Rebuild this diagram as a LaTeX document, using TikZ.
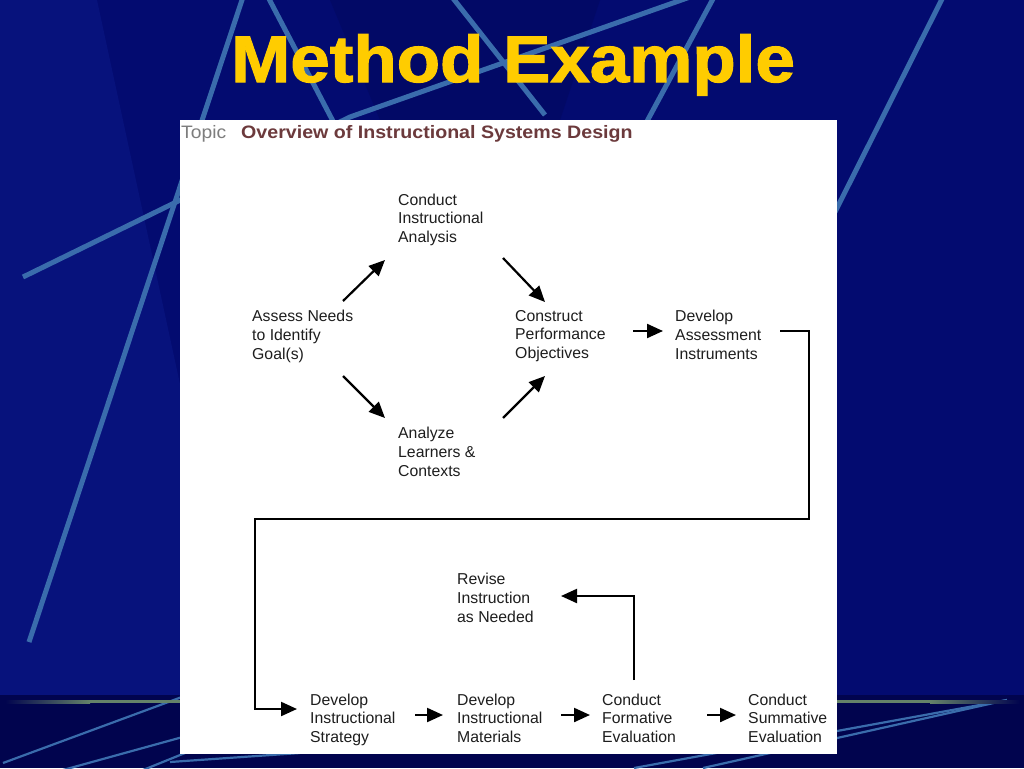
\documentclass[tikz,border=0pt]{standalone}
\usepackage{fontspec}
\setmainfont{Liberation Sans}
\newfontfamily\ttlfont[FakeBold=1.6]{Liberation Sans}
\usetikzlibrary{arrows.meta}
\definecolor{bgblue}{RGB}{3,11,112}
\definecolor{bgleft}{RGB}{7,18,124}
\definecolor{bgdark}{RGB}{2,9,102}
\definecolor{bandblue}{RGB}{1,4,78}
\definecolor{lineblue}{RGB}{58,108,172}
\definecolor{hline}{RGB}{100,130,105}
\definecolor{titleyellow}{RGB}{255,204,0}
\definecolor{headred}{RGB}{108,58,60}
\definecolor{topicgray}{RGB}{125,125,125}
\definecolor{txtgray}{RGB}{30,30,30}
\begin{document}
\begin{tikzpicture}[x=1pt,y=-1pt,
  lbl/.style={anchor=north west, inner sep=0pt, align=left,
    font=\fontsize{15.8}{18.7}\selectfont, text=txtgray,
    execute at begin node={\rule{0pt}{12pt}}},
  arr/.style={line width=2.2pt, draw=black, -{Triangle[length=16pt,width=14pt]}},
  bgline/.style={draw=lineblue, line width=5pt},
  bgthin/.style={draw=lineblue, line width=2.2pt},
  titlefont/.style={font=\ttlfont\fontsize{66}{70}\bfseries\selectfont, inner sep=0pt, anchor=base west}]
\useasboundingbox (0,0) rectangle (1024,768);
% background
\fill[bgblue] (0,0) rectangle (1024,768);
\fill[bgleft] (0,0) -- (97,0) -- (180,384) -- (180,695) -- (0,695) -- cycle;
\fill[bgdark] (330,0) -- (600,0) -- (560,120) -- (380,120) -- cycle;
\fill[bandblue] (0,695) rectangle (1024,768);
\draw[bgline] (243,-3) -- (29,642);
\draw[bgline] (23,277) -- (350,117) -- (690,-3);
\draw[bgline] (268,-3) -- (335,125);
\draw[bgline] (452,-3) -- (545,115);
\draw[bgline] (714,-3) -- (645,125);
\draw[bgline] (943,-3) -- (835,212);
\draw[bgthin] (3,763) -- (190,694);
\draw[bgthin] (63,770) -- (190,735);
\draw[bgthin] (143,770) -- (190,751);
\draw[bgthin] (170,762) -- (300,753);
\draw[bgthin] (634,768) -- (1007,700);
\draw[bgthin] (703,768) -- (1007,700);
\shade[left color=bandblue, right color=hline] (5,700) rectangle (90,703);
\fill[hline] (90,700) rectangle (930,703);
\shade[left color=hline, right color=bandblue] (930,700) rectangle (1020,703);
% title
\node[titlefont, text=titleyellow] (title) at (231,82) {\scalebox{1.075}[1]{Method Example}};
% panel
\fill[white] (180,120) rectangle (837,754);
\node[anchor=base west, inner sep=0pt, text=topicgray, font=\fontsize{18}{20}\selectfont] (topic) at (181,138) {\scalebox{1.07}[1]{Topic}};
\node[anchor=base west, inner sep=0pt, text=headred, font=\fontsize{18}{20}\bfseries\selectfont] (head) at (241,138) {\scalebox{1.09}[1]{Overview of Instructional Systems Design}};
% steps
\node[lbl] (conduct)   at (398,193.5) {Conduct\\Instructional\\Analysis};
\node[lbl] (assess)    at (252,310)   {Assess Needs\\to Identify\\Goal(s)};
\node[lbl] (construct) at (515,310)   {Construct\\Performance\\Objectives};
\node[lbl] (devas)     at (675,310)   {Develop\\Assessment\\Instruments};
\node[lbl] (analyze)   at (398,427)   {Analyze\\Learners \&\\Contexts};
\node[lbl] (revise)    at (457,573)   {Revise\\Instruction\\as Needed};
\node[lbl] (strategy)  at (310,693.5) {Develop\\Instructional\\Strategy};
\node[lbl] (materials) at (457,693.5) {Develop\\Instructional\\Materials};
\node[lbl] (formative) at (602,693.5) {Conduct\\Formative\\Evaluation};
\node[lbl] (summative) at (748,693.5) {Conduct\\Summative\\Evaluation};
% loop corners
\coordinate (loopR) at (809,519);
\coordinate (loopL) at (255,519);
% connectors
\draw[arr] ([shift={(91,-9)}]assess.north west) -- ([shift={(-13,66.5)}]conduct.north west);
\draw[arr] ([shift={(91,66)}]assess.north west) -- ([shift={(-13,-9)}]analyze.north west);
\draw[arr] ([shift={(105,64.5)}]conduct.north west) -- ([shift={(30,-8)}]construct.north west);
\draw[arr] ([shift={(105,-9)}]analyze.north west) -- ([shift={(30,66)}]construct.north west);
\draw[arr] ([shift={(118,21)}]construct.north west) -- ([shift={(-12,21)}]devas.north west);
\draw[arr] ([shift={(105,21)}]devas.north west) -| (loopR) -- (loopL) |- ([shift={(-13,15.5)}]strategy.north west);
\draw[arr] ([shift={(105,21.5)}]strategy.north west) -- ([shift={(-14,21.5)}]materials.north west);
\draw[arr] ([shift={(104,21.5)}]materials.north west) -- ([shift={(-12,21.5)}]formative.north west);
\draw[arr] ([shift={(105,21.5)}]formative.north west) -- ([shift={(-12,21.5)}]summative.north west);
\draw[arr] ([shift={(32,-13.5)}]formative.north west) |- ([shift={(104,23)}]revise.north west);
\end{tikzpicture}
\end{document}
